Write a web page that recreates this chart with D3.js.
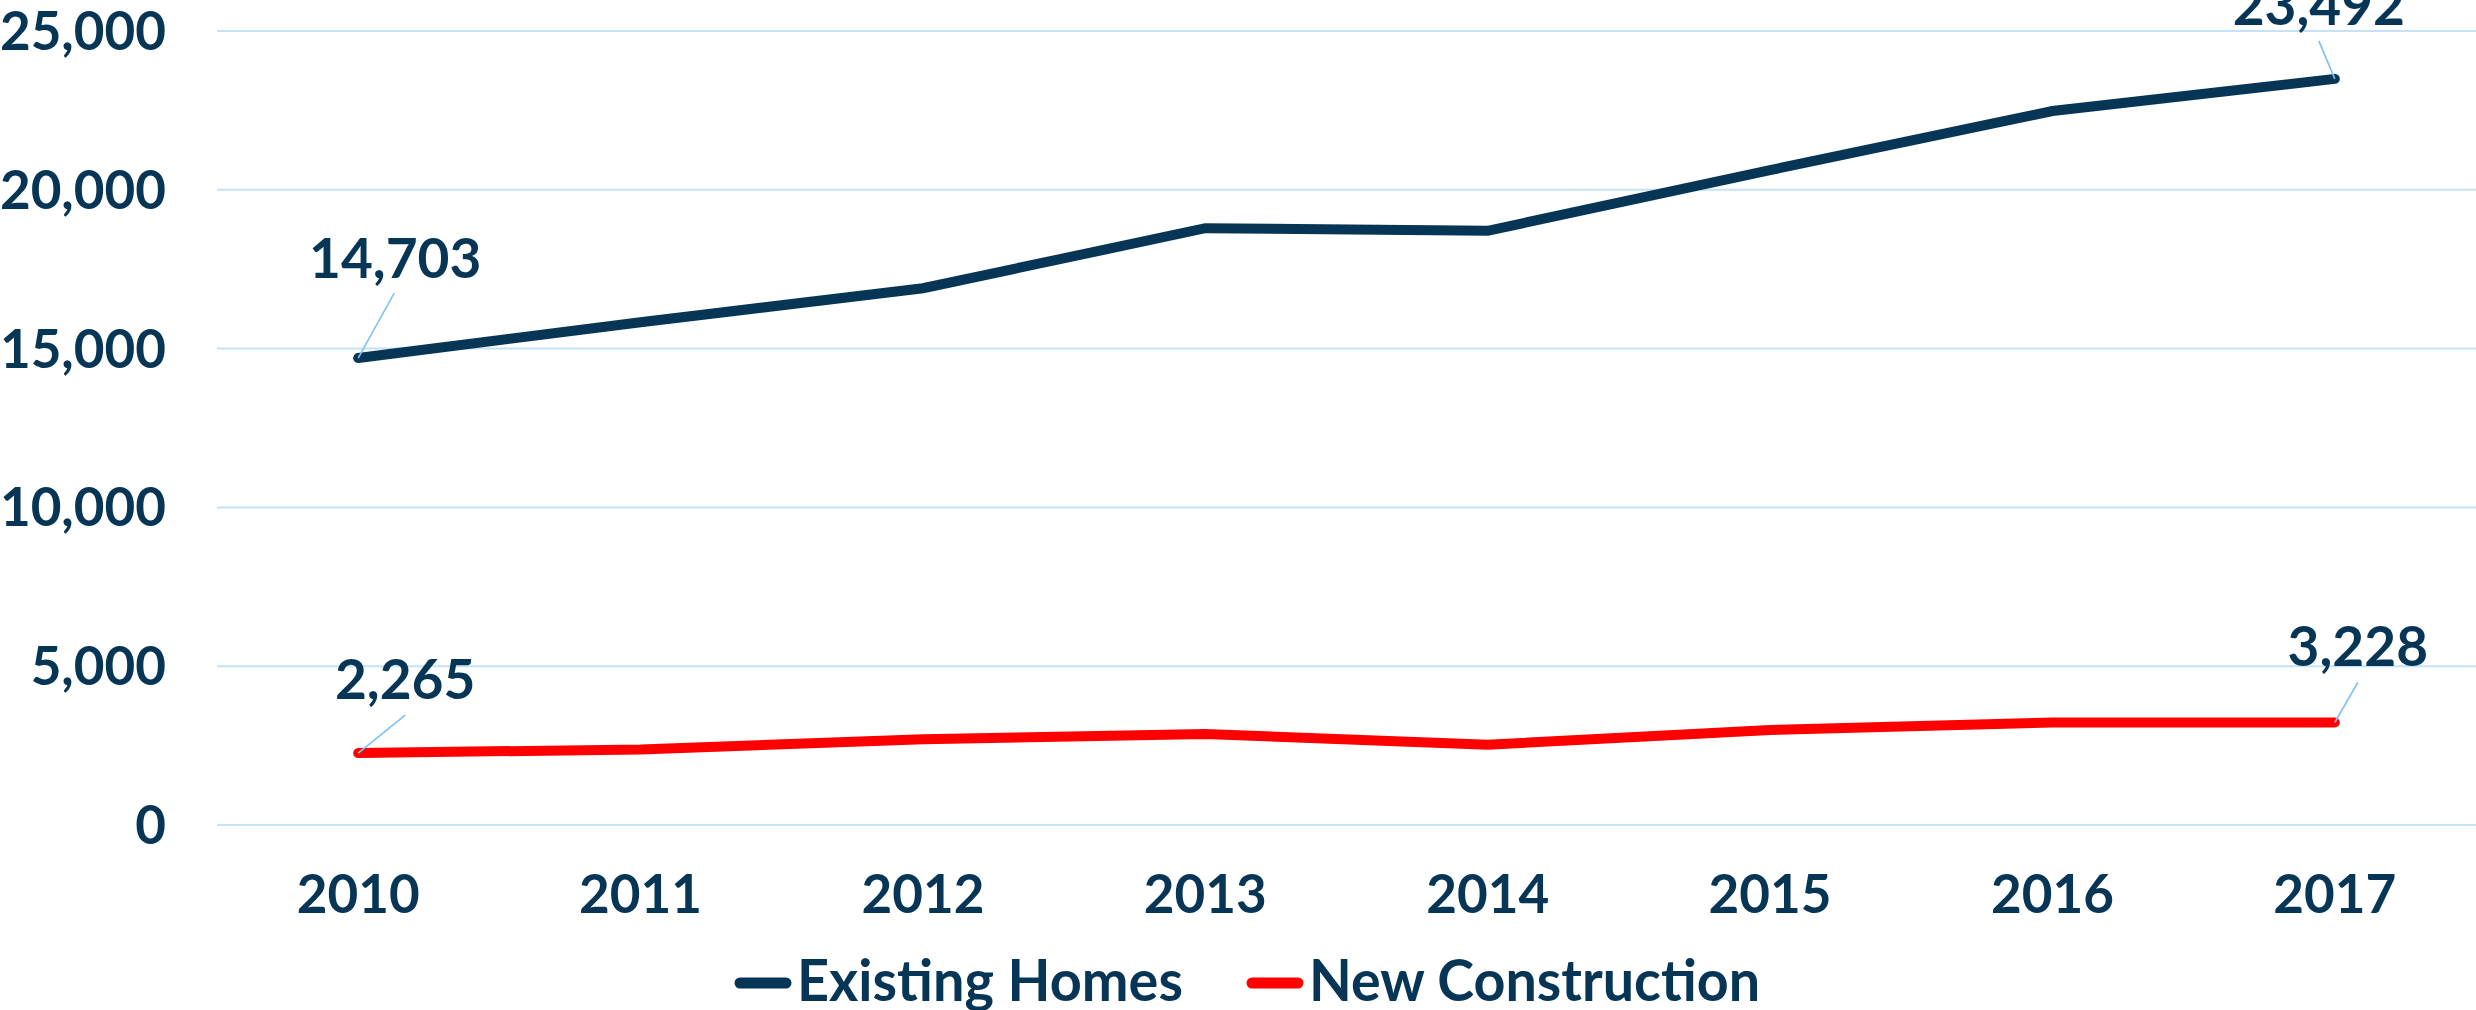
<!DOCTYPE html>
<html>
<head>
<meta charset="utf-8">
<script src="https://cdn.jsdelivr.net/npm/d3@7"></script>
<style>
  html, body { margin: 0; padding: 0; background: #ffffff; }
  svg { display: block; }
  text { font-family: Lato, "Noto Sans", sans-serif; font-weight: 700; fill: #063555; }
</style>
</head>
<body>
<svg id="chart" width="2476" height="1010"></svg>
<script>
// ---- Data ----
const years = ["2010", "2011", "2012", "2013", "2014", "2015", "2016", "2017"];
const existingHomes = [14703, 15830, 16900, 18790, 18710, 20620, 22480, 23492];
const newConstruction = [2265, 2380, 2700, 2865, 2530, 2990, 3230, 3228];
const seriesNames = ["Existing Homes", "New Construction"];
const yTicks = [0, 5000, 10000, 15000, 20000, 25000];
const labeledIndices = [0, 7];

// ---- Layout ----
const W = 2476, H = 1010;
const svg = d3.select("#chart");
const colors = ["#063555", "#ff0000"];

const x = d3.scalePoint().domain(years).range([217, 2476]).padding(0.5);
const y = d3.scaleLinear().domain([0, 25000]).range([825, 31]);
const fmt = d3.format(",");

// gridlines
svg.append("g").selectAll("line").data(yTicks).join("line")
  .attr("x1", 217).attr("x2", W)
  .attr("y1", d => y(d)).attr("y2", d => y(d))
  .attr("stroke", "#c4e2f8").attr("stroke-width", 2);

// y axis labels
svg.append("g").selectAll("text").data(yTicks).join("text")
  .attr("x", 166).attr("y", d => y(d) + 19)
  .attr("text-anchor", "end")
  .attr("font-size", 53)
  .text(d => fmt(d));

// x axis labels
svg.append("g").selectAll("text").data(years).join("text")
  .attr("x", d => x(d)).attr("y", 913)
  .attr("text-anchor", "middle")
  .attr("font-size", 53)
  .text(d => d);

const series = [existingHomes, newConstruction];
const line = d3.line().x((d, i) => x(years[i])).y(d => y(d));

series.forEach((vals, s) => {
  svg.append("path")
    .datum(vals)
    .attr("d", line)
    .attr("fill", "none")
    .attr("stroke", colors[s])
    .attr("stroke-width", 10)
    .attr("stroke-linejoin", "miter")
    .attr("stroke-linecap", "round");
});

// data labels with leader lines (offsets are layout only)
const labelOffsets = [
  [ { tx: 37, ty: -80, lx: 36, ly: -65 }, { tx: -16, ty: -54, lx: -16, ly: -38 } ],
  [ { tx: 47, ty: -54, lx: 47, ly: -38 }, { tx: 23, ty: -56, lx: 23, ly: -40 } ]
];
series.forEach((vals, s) => {
  labeledIndices.forEach((idx, k) => {
    const px = x(years[idx]), py = y(vals[idx]);
    const o = labelOffsets[s][k];
    svg.append("line")
      .attr("x1", px).attr("y1", py)
      .attr("x2", px + o.lx).attr("y2", py + o.ly)
      .attr("stroke", "#7cc3f4").attr("stroke-width", 1.6);
    svg.append("text")
      .attr("x", px + o.tx).attr("y", py + o.ty)
      .attr("text-anchor", "middle")
      .attr("font-size", 55)
      .text(fmt(vals[idx]));
  });
});

// legend
const legendItems = [
  { sx: 735, tx: 797, tw: 386 },
  { sx: 1247, tx: 1309, tw: 451 }
];
legendItems.forEach((it, s) => {
  svg.append("line")
    .attr("x1", it.sx + 5).attr("x2", it.sx + 51)
    .attr("y1", 983).attr("y2", 983)
    .attr("stroke", colors[s]).attr("stroke-width", 11)
    .attr("stroke-linecap", "round");
  svg.append("text")
    .attr("x", it.tx).attr("y", 1001)
    .attr("font-size", 58)
    .attr("textLength", it.tw)
    .attr("lengthAdjust", "spacingAndGlyphs")
    .text(seriesNames[s]);
});
</script>
</body>
</html>
